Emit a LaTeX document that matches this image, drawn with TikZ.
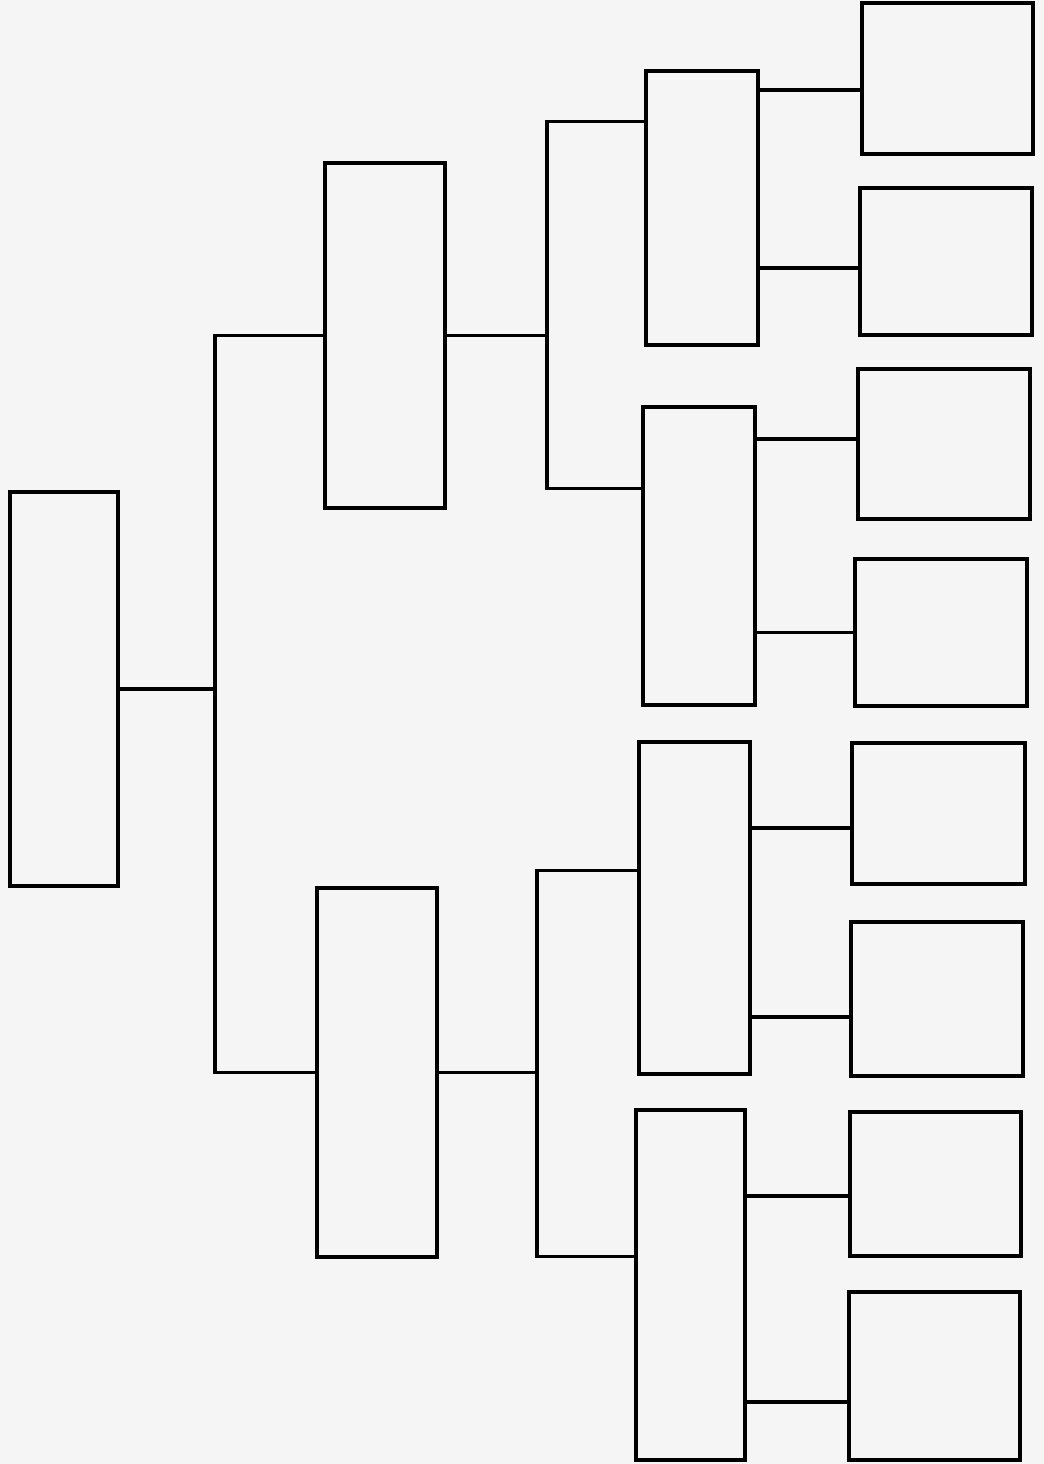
\documentclass[tikz,border=0pt]{standalone}
\begin{document}
\begin{tikzpicture}
    \tikzstyle{personbox} = [rectangle, draw=black, line width=2.3pt, inner sep=0pt]
    \tikzstyle{link} = [draw=black, line width=2.3pt]

    \fill[black!4] (0,0) rectangle (26.1,-36.6);
    \useasboundingbox (0,0) rectangle (26.1,-36.6);

    % generation 1
    \node (child) [personbox, minimum width=2.7cm, minimum height=9.85cm] at (1.6,-17.225) {};
    % generation 2
    \node (father) [personbox, minimum width=3cm, minimum height=8.625cm] at (9.625,-8.3875) {};
    \node (mother) [personbox, minimum width=3cm, minimum height=9.225cm] at (9.425,-26.8125) {};
    % generation 3
    \node (gfa1) [personbox, minimum width=2.8cm, minimum height=6.85cm] at (17.55,-5.2) {};
    \node (gmo1) [personbox, minimum width=2.8cm, minimum height=7.45cm] at (17.475,-13.9) {};
    \node (gfa2) [personbox, minimum width=2.775cm, minimum height=8.3cm] at (17.3625,-22.7) {};
    \node (gmo2) [personbox, minimum width=2.725cm, minimum height=8.75cm] at (17.2625,-32.125) {};
    % generation 4
    \node (ggp1) [personbox, minimum width=4.275cm, minimum height=3.775cm] at (23.6875,-1.9625) {};
    \node (ggp2) [personbox, minimum width=4.3cm, minimum height=3.675cm] at (23.65,-6.5375) {};
    \node (ggp3) [personbox, minimum width=4.3cm, minimum height=3.75cm] at (23.6,-11.1) {};
    \node (ggp4) [personbox, minimum width=4.3cm, minimum height=3.675cm] at (23.525,-15.8125) {};
    \node (ggp5) [personbox, minimum width=4.325cm, minimum height=3.525cm] at (23.4625,-20.3375) {};
    \node (ggp6) [personbox, minimum width=4.3cm, minimum height=3.85cm] at (23.425,-24.975) {};
    \node (ggp7) [personbox, minimum width=4.275cm, minimum height=3.6cm] at (23.3875,-29.6) {};
    \node (ggp8) [personbox, minimum width=4.275cm, minimum height=4.2cm] at (23.3625,-34.4) {};

    \coordinate (forkC) at (5.375,-17.225);
    \coordinate (forkF) at (13.675,-8.3);
    \coordinate (forkM) at (13.425,-26.9);

    \draw [link] (child.east) -- (forkC) |- (father.west);
    \draw [link] (forkC) |- (mother.west);
    \draw [link] (father.east) -- (father.east -| forkF) |- ([yshift=-1.3cm]gfa1.north west);
    \draw [link] (father.east -| forkF) |- ([yshift=-2.075cm]gmo1.north west);
    \draw [link] (mother.east) -- (mother.east -| forkM) |- ([yshift=-3.25cm]gfa2.north west);
    \draw [link] (mother.east -| forkM) |- ([yshift=-3.7cm]gmo2.north west);

    \draw [link] ([yshift=-0.29cm]ggp1.west) coordinate (l1) -- (l1 -| gfa1.east);
    \draw [link] ([yshift=-0.16cm]ggp2.west) coordinate (l2) -- (l2 -| gfa1.east);
    \draw [link] ([yshift=0.125cm]ggp3.west) coordinate (l3) -- (l3 -| gmo1.east);
    \draw [link] (ggp4.west) -- (ggp4.west -| gmo1.east);
    \draw [link] ([yshift=-0.36cm]ggp5.west) coordinate (l5) -- (l5 -| gfa2.east);
    \draw [link] ([yshift=-0.45cm]ggp6.west) coordinate (l6) -- (l6 -| gfa2.east);
    \draw [link] ([yshift=-0.3cm]ggp7.west) coordinate (l7) -- (l7 -| gmo2.east);
    \draw [link] ([yshift=-0.65cm]ggp8.west) coordinate (l8) -- (l8 -| gmo2.east);
\end{tikzpicture}
\end{document}
